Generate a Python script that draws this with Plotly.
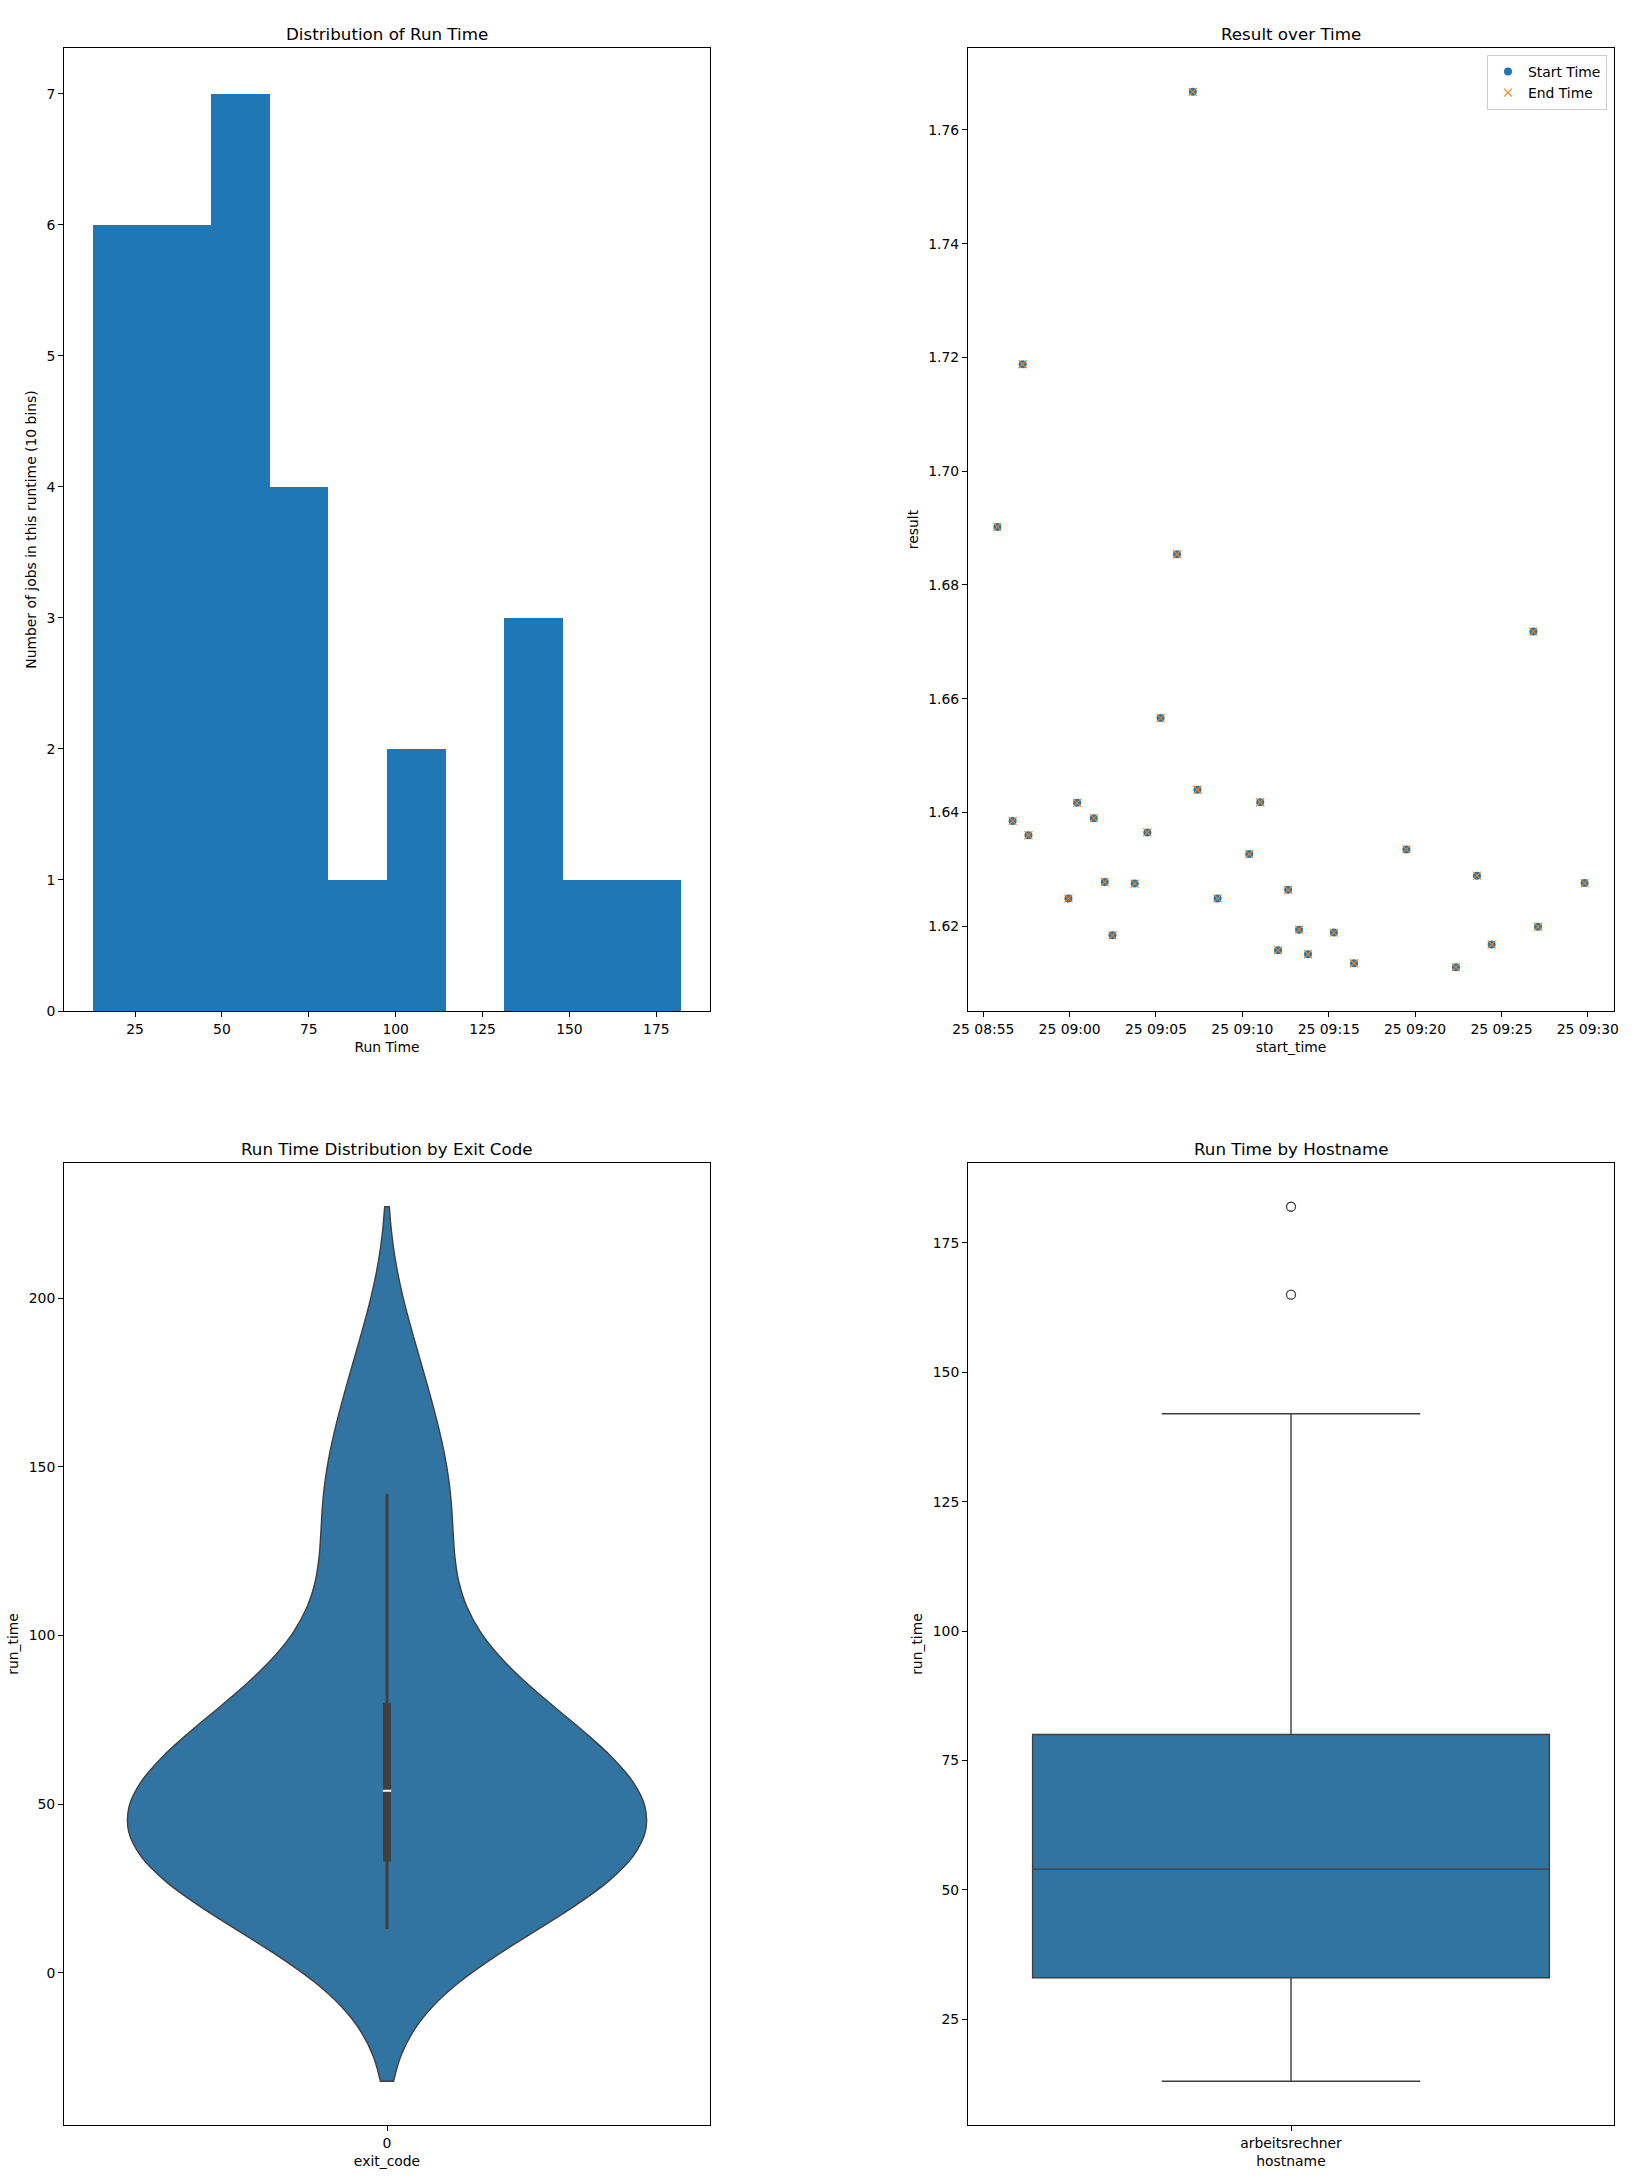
import numpy as np
import pandas as pd
import plotly.graph_objects as go

# ---------------- data ----------------
run_time = [13, 18, 22, 25, 27, 29, 31, 32, 34, 38, 42, 45, 48, 50, 52, 54,
            57, 60, 62, 66, 71, 76, 79, 81, 100, 108, 134, 139, 142, 165, 182]

start_time = [
    "2024-01-25 08:55:49", "2024-01-25 08:56:42", "2024-01-25 08:57:17", "2024-01-25 08:57:37",
    "2024-01-25 08:59:56", "2024-01-25 09:00:26", "2024-01-25 09:01:24", "2024-01-25 09:02:02",
    "2024-01-25 09:02:29", "2024-01-25 09:03:46", "2024-01-25 09:04:30", "2024-01-25 09:05:16",
    "2024-01-25 09:06:13", "2024-01-25 09:07:08", "2024-01-25 09:07:24", "2024-01-25 09:08:34",
    "2024-01-25 09:10:24", "2024-01-25 09:11:02", "2024-01-25 09:12:04", "2024-01-25 09:12:39",
    "2024-01-25 09:13:17", "2024-01-25 09:13:48", "2024-01-25 09:15:18", "2024-01-25 09:16:28",
    "2024-01-25 09:19:30", "2024-01-25 09:22:22", "2024-01-25 09:23:35", "2024-01-25 09:24:26",
    "2024-01-25 09:26:51", "2024-01-25 09:27:07", "2024-01-25 09:29:49",
]
result = [1.6902, 1.6385, 1.7188, 1.6360, 1.6249, 1.6417, 1.6390, 1.6278,
          1.6184, 1.6275, 1.6365, 1.6566, 1.6854, 1.7667, 1.6440, 1.6249,
          1.6327, 1.6418, 1.6158, 1.6264, 1.6194, 1.6151, 1.6189, 1.6135,
          1.6335, 1.6128, 1.6289, 1.6168, 1.6718, 1.6199, 1.6276]

exit_code_category = "0"
hostname_category = "arbeitsrechner"

hist_xticks = [25, 50, 75, 100, 125, 150, 175]
hist_yticks = [0, 1, 2, 3, 4, 5, 6, 7]
result_yticks = [1.62, 1.64, 1.66, 1.68, 1.70, 1.72, 1.74, 1.76]
violin_yticks = [0, 50, 100, 150, 200]
box_yticks = [25, 50, 75, 100, 125, 150, 175]

# ---------------- geometry ----------------
W, H = 1650, 2181
ML, MR, MT, MB = 64, 36, 48, 56
PW, PH = W - ML - MR, H - MT - MB


def px_x(p):
    return (p - ML) / PW


def px_y(p):
    return (H - MB - p) / PH


xd_left = [px_x(64), px_x(710)]
xd_right = [px_x(968), px_x(1614)]
yd_top = [px_y(1011), px_y(48)]
yd_bot = [px_y(2125), px_y(1163)]

FONT = "DejaVu Sans"
TICK = 13.9
TITLE = 16.7
HIST_BLUE = "#1f77b4"
SNS_BLUE = "#3274a1"
GRAY = "#3f3f3f"
ORANGE = "#ff7f0e"


def pad(lo, hi, f=0.05):
    d = (hi - lo) * f
    return [lo - d, hi + d]


rt = np.array(run_time, dtype=float)

fig = go.Figure()

# ---- histogram ----
counts, edges = np.histogram(rt, bins=10)
centers = (edges[:-1] + edges[1:]) / 2
widths = np.diff(edges)
fig.add_trace(go.Bar(x=centers, y=counts, width=widths,
                     marker=dict(color=HIST_BLUE, line=dict(width=0)),
                     showlegend=False, xaxis="x", yaxis="y"))

# ---- scatter ----
st = pd.to_datetime(pd.Series(start_time))
fig.add_trace(go.Scatter(x=start_time, y=result, mode="markers", name="Start Time",
                         marker=dict(symbol="circle", size=8, color=HIST_BLUE,
                                     line=dict(width=0)),
                         xaxis="x2", yaxis="y2"))
fig.add_trace(go.Scatter(x=start_time, y=result, mode="markers", name="End Time",
                         marker=dict(symbol="x-thin", size=8, color=ORANGE,
                                     line=dict(width=1.1, color=ORANGE)),
                         xaxis="x2", yaxis="y2"))

# ---- violin ----
n = len(rt)
bw = rt.std(ddof=1) * n ** (-1 / 5)
fig.add_trace(go.Violin(y=run_time, x0=0, width=0.8, bandwidth=bw, spanmode="soft",
                        fillcolor=SNS_BLUE, line=dict(color=GRAY, width=1.4),
                        points=False, box_visible=False, meanline_visible=False,
                        showlegend=False, xaxis="x3", yaxis="y3"))
q1, med, q3 = np.percentile(rt, [25, 50, 75])
iqr = q3 - q1
lw = rt[rt >= q1 - 1.5 * iqr].min()
uw = rt[rt <= q3 + 1.5 * iqr].max()
fig.add_trace(go.Scatter(x=[0, 0], y=[lw, uw], mode="lines",
                         line=dict(color=GRAY, width=3), showlegend=False,
                         xaxis="x3", yaxis="y3"))
fig.add_trace(go.Scatter(x=[0, 0], y=[q1, q3], mode="lines",
                         line=dict(color=GRAY, width=8), showlegend=False,
                         xaxis="x3", yaxis="y3"))
fig.add_trace(go.Scatter(x=[0], y=[med], mode="markers",
                         marker=dict(symbol="line-ew", size=6,
                                     line=dict(color="white", width=2)),
                         showlegend=False, xaxis="x3", yaxis="y3"))

# ---- box ----
fig.add_trace(go.Box(y=run_time, x0=hostname_category, width=0.8, whiskerwidth=0.5,
                     fillcolor=SNS_BLUE, line=dict(color=GRAY, width=1.4),
                     boxpoints="outliers", quartilemethod="inclusive",
                     marker=dict(symbol="circle-open", size=9, color=GRAY,
                                 line=dict(width=1.3, color=GRAY)),
                     showlegend=False, xaxis="x4", yaxis="y4"))


def axis(**kw):
    base = dict(showline=True, linecolor="black", linewidth=1, mirror=True,
                ticks="outside", ticklen=5, tickwidth=1, tickcolor="black",
                showgrid=False, zeroline=False, automargin=False,
                tickfont=dict(family=FONT, size=TICK, color="black"),
                title=dict(font=dict(family=FONT, size=TICK, color="black"), standoff=6))
    t = kw.pop("title_text", None)
    base.update(kw)
    if t is not None:
        base["title"]["text"] = t
    return base


vio_lo = rt.min() - 2 * bw
vio_hi = rt.max() + 2 * bw

fig.update_layout(
    width=W, height=H,
    margin=dict(l=ML, r=MR, t=MT, b=MB),
    paper_bgcolor="white", plot_bgcolor="white",
    font=dict(family=FONT, color="black"),
    bargap=0,
    xaxis=axis(domain=xd_left, anchor="y", range=pad(edges[0], edges[-1]),
               tickvals=hist_xticks, title_text="Run Time"),
    yaxis=axis(domain=yd_top, anchor="x", range=[0, counts.max() * 1.05],
               tickvals=hist_yticks, title_text="Number of jobs in this runtime (10 bins)"),
    xaxis2=axis(domain=xd_right, anchor="y2", type="date",
                range=[st.min() - (st.max() - st.min()) * 0.05,
                       st.max() + (st.max() - st.min()) * 0.05],
                tick0="2024-01-25 08:55:00", dtick=300000, tickformat="%d %H:%M",
                title_text="start_time"),
    yaxis2=axis(domain=yd_top, anchor="x2", range=pad(min(result), max(result)),
                tickvals=result_yticks, tickformat=".2f", title_text="result"),
    xaxis3=axis(domain=xd_left, anchor="y3", type="linear", range=[-0.5, 0.5],
                tickvals=[0], ticktext=[exit_code_category], title_text="exit_code"),
    yaxis3=axis(domain=yd_bot, anchor="x3", range=pad(vio_lo, vio_hi),
                tickvals=violin_yticks, title_text="run_time"),
    xaxis4=axis(domain=xd_right, anchor="y4", type="category", range=[-0.5, 0.5],
                title_text="hostname"),
    yaxis4=axis(domain=yd_bot, anchor="x4", range=pad(rt.min(), rt.max()),
                tickvals=box_yticks, title_text="run_time"),
    legend=dict(x=px_x(1607), y=px_y(55), xanchor="right", yanchor="top",
                bgcolor="rgba(255,255,255,0.8)", bordercolor="#cccccc", borderwidth=1,
                font=dict(family=FONT, size=TICK, color="black")),
)

titles = [
    ("Distribution of Run Time", (64 + 710) / 2, 34),
    ("Result over Time", (968 + 1614) / 2, 34),
    ("Run Time Distribution by Exit Code", (64 + 710) / 2, 1149),
    ("Run Time by Hostname", (968 + 1614) / 2, 1149),
]
for text, cx, cy in titles:
    fig.add_annotation(text=text, x=px_x(cx), y=px_y(cy), xref="paper", yref="paper",
                       xanchor="center", yanchor="middle", showarrow=False,
                       font=dict(family=FONT, size=TITLE, color="black"))

fig.write_html("out.html")
